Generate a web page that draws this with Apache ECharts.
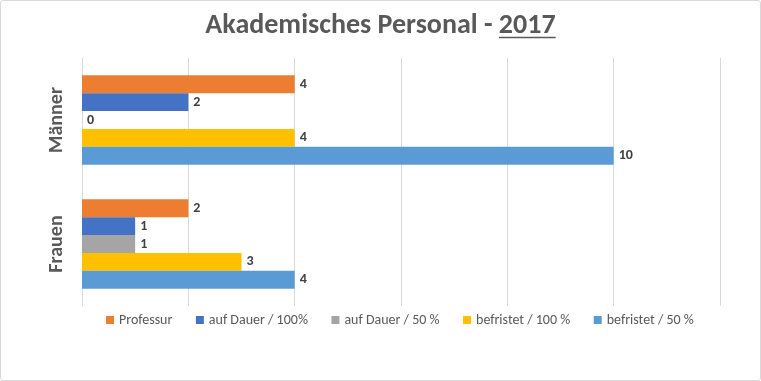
<!DOCTYPE html>
<html><head><meta charset="utf-8">
<script src="https://cdn.jsdelivr.net/npm/echarts@6/dist/echarts.min.js"></script>
<style>
html,body{margin:0;padding:0;background:#fff;}
#c{width:759px;height:379px;border:1px solid #d9d9d9;border-radius:3px;}
</style></head>
<body><div id="c"></div>
<script>
const categories = ['Männer', 'Frauen'];
const seriesNames = ['Professur', 'auf Dauer / 100%', 'auf Dauer / 50 %', 'befristet / 100 %', 'befristet / 50 %'];
const professur = [4, 2];
const dauer100 = [2, 1];
const dauer50 = [0, 1];
const befristet100 = [4, 3];
const befristet50 = [10, 4];
const colors = ['#ED7D31', '#4472C4', '#A5A5A5', '#FFC000', '#5B9BD5'];
const values = [professur, dauer100, dauer50, befristet100, befristet50];
const font = 'Carlito, Calibri, Lato, sans-serif';

const titleMain = 'Akademisches Personal - ';
const titleYear = '2017';
const titleSize = 28;
const cv = document.createElement('canvas').getContext('2d');
cv.font = 'bold ' + titleSize + 'px ' + font;
const wAll = cv.measureText(titleMain + titleYear).width;
const wYear = cv.measureText(titleYear).width;
const cx = 759 / 2;
const uEnd = cx + wAll / 2;
const uStart = uEnd - wYear;

const chart = echarts.init(document.getElementById('c'));
chart.setOption({
  animation: false,
  title: {
    text: titleMain + titleYear,
    left: 'center', top: 6,
    textStyle: { fontFamily: font, fontSize: titleSize, fontWeight: 'bold', color: '#595959' }
  },
  graphic: [{
    type: 'line', silent: true,
    shape: { x1: uStart, y1: 36.5, x2: uEnd, y2: 36.5 },
    style: { stroke: '#595959', lineWidth: 1.5 }
  }],
  legend: {
    bottom: 48, left: 100,
    itemWidth: 8, itemHeight: 8, itemGap: 23.5,
    icon: 'rect',
    textStyle: { fontFamily: font, fontSize: 14, color: '#595959' },
    data: seriesNames
  },
  grid: { left: 81, right: 40, top: 57, bottom: 74 },
  xAxis: {
    type: 'value', min: 0, max: 12, interval: 2,
    axisLabel: { show: false },
    axisLine: { show: false }, axisTick: { show: false },
    splitLine: { lineStyle: { color: '#d9d9d9', width: 1 } }
  },
  yAxis: {
    type: 'category', data: categories, inverse: true,
    axisLine: { lineStyle: { color: '#d9d9d9' } },
    axisTick: { show: false },
    axisLabel: { rotate: 90, fontFamily: font, fontSize: 20, fontWeight: 'bold', color: '#595959', margin: 15 }
  },
  series: seriesNames.map((n, i) => ({
    name: n, type: 'bar', data: values[i],
    barGap: '0%', barCategoryGap: '28%',
    itemStyle: { color: colors[i] },
    label: { show: true, position: 'right', distance: 5, fontFamily: font, fontSize: 14, fontWeight: 'bold', color: '#404040' }
  }))
});
</script></body></html>
